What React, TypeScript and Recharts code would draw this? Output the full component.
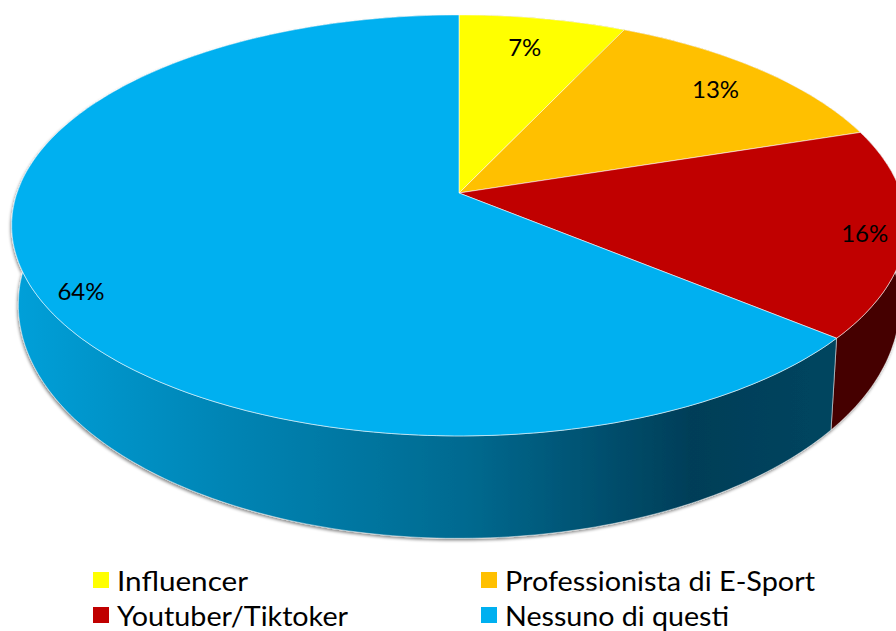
import { PieChart, Pie, Cell, Legend } from "recharts"

const categories = ["Influencer", "Professionista di E-Sport", "Youtuber/Tiktoker", "Nessuno di questi"]
const shares = [7, 13, 16, 64]
const colors = ["#ffff00", "#ffc000", "#c00000", "#00b0f0"]

// how far out along each slice the percent label sits, small vertical nudges, and legend text widths
const labelReach = [0.76, 0.84, 0.91, 0.89]
const labelNudge = [-10, 1, 4, 15]
const legendWidths = [131, 310, 231, 224]

const chartData = categories.map((name, i) => ({ name, value: shares[i] }))

// fake 3d: a perspective projection of the unit circle
const TILT = -0.154
const SQUASH = 205.5 / 442
const LOWER_X = 0.985
const LOWER_Y = 1.11
const LOWER_SHIFT = 54.5
const RADIAN = Math.PI / 180

const project = (cx: number, cy: number, r: number, angle: number, reach = 1) => {
  const u = Math.cos(angle * RADIAN) * reach
  const v = -Math.sin(angle * RADIAN) * reach
  const d = 1 + TILT * v
  return { x: cx + (r * u) / d, y: cy + (r * SQUASH * v) / d }
}

const lower = (cx: number, p: { x: number; y: number }) => ({
  x: cx + (p.x - cx) * LOWER_X,
  y: p.y * LOWER_Y + LOWER_SHIFT,
})

const arcPoints = (cx: number, cy: number, r: number, start: number, end: number) => {
  const steps = Math.max(2, Math.ceil(Math.abs(end - start)))
  const pts = []
  for (let i = 0; i <= steps; i++) {
    pts.push(project(cx, cy, r, start + ((end - start) * i) / steps))
  }
  return pts
}

const toPath = (pts: { x: number; y: number }[]) =>
  pts.map((p, i) => `${i === 0 ? "M" : "L"}${p.x.toFixed(1)} ${p.y.toFixed(1)}`).join(" ") + " Z"

const TopSlice = ({ cx, cy, outerRadius, startAngle, endAngle, fill }: any) => {
  const pts = arcPoints(cx, cy, outerRadius, startAngle, endAngle)
  return <path d={toPath([{ x: cx, y: cy }, ...pts])} fill={fill} stroke="#ffffff" strokeOpacity={0.55} strokeWidth={1} />
}

const WallSlice = ({ cx, cy, outerRadius, startAngle, endAngle, index }: any) => {
  const top = arcPoints(cx, cy, outerRadius, startAngle, endAngle)
  const bottom = top.map((p) => lower(cx, p)).reverse()
  const fill = index === 3 ? "url(#blueWall)" : index === 2 ? "#450000" : "#806000"
  return (
    <path
      d={toPath([...top, ...bottom])}
      fill={fill}
      stroke="#ffffff"
      strokeOpacity={0.45}
      strokeWidth={1}
      filter="url(#wallShadow)"
    />
  )
}

const renderLabel = ({ cx, cy, outerRadius, midAngle, index }: any) => {
  const p = project(cx, cy, outerRadius, midAngle, labelReach[index])
  return (
    <text x={p.x} y={p.y + labelNudge[index]} fill="#000000" textAnchor="middle" dominantBaseline="central" fontSize={24}>
      {`${shares[index]}%`}
    </text>
  )
}

const legendCols = [93, 481]
const legendRows = [572, 607]

const renderLegend = () => (
  <svg width={896} height={71} style={{ display: "block" }}>
    {categories.map((name, i) => {
      const x = legendCols[i % 2]
      const y = legendRows[Math.floor(i / 2)] - 560
      return (
        <g key={name}>
          <rect x={x} y={y} width={16} height={16} fill={colors[i]} />
          <text
            x={x + 24}
            y={y + 19}
            fontSize={27}
            fill="#000000"
            textLength={legendWidths[i]}
            lengthAdjust="spacingAndGlyphs"
          >
            {name}
          </text>
        </g>
      )
    })}
  </svg>
)

export default function App() {
  return (
    <div style={{ width: 896, height: 631, overflow: "hidden", background: "#ffffff", fontFamily: "Lato, sans-serif" }}>
      <style>{"html, body { margin: 0; padding: 0; overflow: hidden; }"}</style>
      <PieChart width={896} height={631} margin={{ top: 0, right: 0, bottom: 0, left: 0 }}>
        <defs>
          <linearGradient id="blueWall" gradientUnits="userSpaceOnUse" x1={20} y1={0} x2={830} y2={0}>
            <stop offset="0" stopColor="#009fd8" />
            <stop offset="0.25" stopColor="#0085b5" />
            <stop offset="0.55" stopColor="#006a90" />
            <stop offset="0.83" stopColor="#003e58" />
            <stop offset="1" stopColor="#00455f" />
          </linearGradient>
          <filter id="wallShadow" x="-5%" y="-5%" width="110%" height="110%">
            <feDropShadow dx={-1} dy={2} stdDeviation={1.5} floodColor="#000000" floodOpacity={0.45} />
          </filter>
        </defs>
        <Pie
          data={chartData}
          dataKey="value"
          nameKey="name"
          cx={459}
          cy={193}
          outerRadius={442}
          startAngle={90}
          endAngle={-270}
          legendType="none"
          shape={WallSlice}
          isAnimationActive={false}
        />
        <Pie
          data={chartData}
          dataKey="value"
          nameKey="name"
          cx={459}
          cy={193}
          outerRadius={442}
          startAngle={90}
          endAngle={-270}
          shape={TopSlice}
          label={renderLabel}
          labelLine={false}
          isAnimationActive={false}
        >
          {chartData.map((entry, index) => (
            <Cell key={`cell-${entry.name}`} fill={colors[index]} />
          ))}
        </Pie>
        <Legend content={renderLegend} wrapperStyle={{ position: "absolute", left: 0, top: 560, width: 896 }} />
      </PieChart>
    </div>
  )
}
